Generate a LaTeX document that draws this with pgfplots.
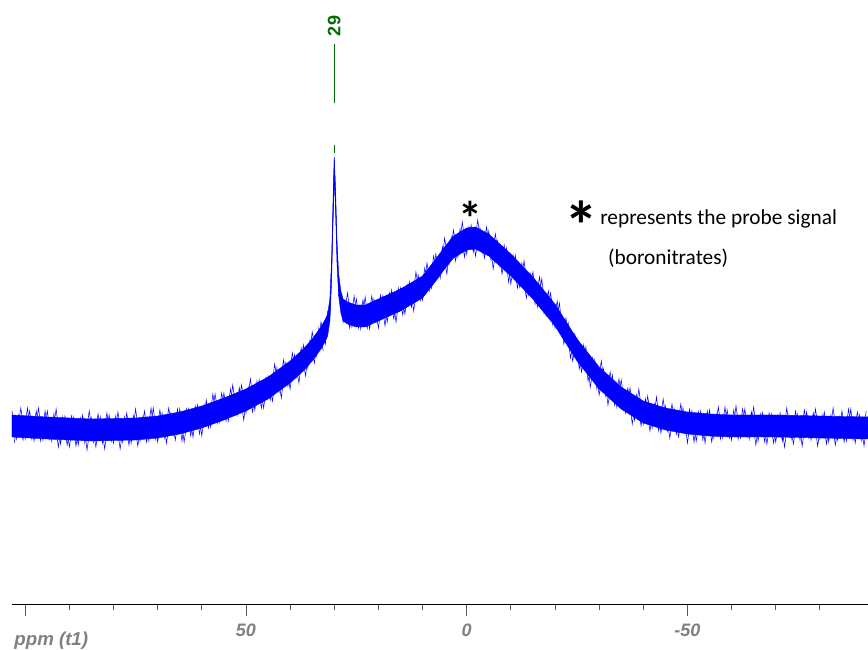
\documentclass[border=0pt]{standalone}
\usepackage{pgfplots}
\pgfplotsset{compat=1.18}
\usepackage{fontspec}
\setmainfont{Liberation Sans}
\newfontfamily\carlito{Carlito}
\definecolor{specblue}{RGB}{0,0,255}
\definecolor{peakgreen}{RGB}{0,110,0}
\definecolor{ticklab}{RGB}{128,128,128}
\begin{document}
\begin{tikzpicture}
\begin{axis}[
  scale only axis, width=642pt, height=453pt,
  x dir=reverse, xmin=-90.9, xmax=103, ymin=46, ymax=650,
  axis x line=bottom, axis y line=none,
  axis line style={-, black, line width=0.6pt},
  xtick={100,50,0,-50}, xticklabels={,50,0,-50},
  minor xtick={90,80,70,60,40,30,20,10,-10,-20,-30,-40,-60,-70,-80},
  tick align=outside,
  major tick length=9pt, minor tick length=4.5pt,
  every tick/.style={gray!70!black, line width=0.6pt},
  xticklabel style={font=\fontsize{13.5}{14}\selectfont\bfseries\itshape, text=ticklab, yshift=-2.25pt},
  clip=false,
]
% noise band (upper edge left to right, lower edge right to left)
\addplot[draw=specblue, fill=specblue, line width=0.3pt] coordinates {
(103,235) (95,233) (85,231) (75,232) (70,234) (65,238) (60,244) (55,252)
(50,261) (45,273) (40,289) (37,301) (35,311) (33,323) (32,331) (31.5,336)
(31,351) (30.6,391) (30.3,446) (30,493) (29.7,461) (29.4,411) (29,376)
(28.5,359) (28,351) (27,348) (25,345) (23,345) (20,351) (15,361) (10,374)
(7,391) (5,403) (3,414) (0,422) (-2,423) (-5,416) (-10,396) (-15,373)
(-20,346) (-25,311) (-30,283) (-35,263) (-40,249) (-45,242) (-50,238)
(-55,236) (-60,235) (-70,235) (-80,234) (-90.9,233)
(-90.9,211) (-80,212) (-70,213) (-60,213) (-55,214) (-50,216) (-45,220)
(-40,227) (-35,241) (-30,261) (-25,289) (-20,324) (-15,351) (-10,374)
(-5,394) (-2,401) (0,400) (3,392) (5,381) (7,369) (10,352) (15,339)
(20,329) (23,323) (25,323) (27,326) (28,329) (28.5,337) (29,354)
(29.4,389) (29.7,439) (30,471) (30.3,424) (30.6,369) (31,329) (31.5,314)
(32,309) (33,301) (35,289) (37,279) (40,267) (45,251) (50,239) (55,230)
(60,222) (65,216) (70,212) (75,210) (85,209) (95,211) (103,213)
} -- cycle;
% noise spikes, integer ppm
\addplot[specblue, line width=0.4pt] coordinates {
(103,239) (102,211) (101,242) (100,211) (99,239) (98,209) (97,242) (96,210)
(95,239) (94,209) (93,241) (92,206) (91,234) (90,203) (89,233) (88,205)
(87,235) (86,200) (85,232) (84,203) (83,233) (82,201) (81,235) (80,207)
(79,238) (78,208) (77,237) (76,207) (75,241) (74,209) (73,239) (72,209)
(71,242) (70,208) (69,237) (68,207) (67,237) (66,210) (65,241) (64,208)
(63,241) (62,213) (61,245) (60,214) (59,250) (58,223) (57,256) (56,228)
(55,257) (54,229) (53,265) (52,235) (51,265) (50,237) (49,271) (48,240)
(47,270) (46,242) (45,274) (44,249) (43,282) (42,252) (41,287) (40,261)
(39,295) (38,267) (37,305) (36,282) (35,318) (34,294) (33,328) (32,306)
(31.5,338) (31,330) (30.6,385) (30.3,430) (30,490) (29.7,445) (29.4,405)
(29,355) (28.5,352) (28,328)
(27,357) (26,323) (25,351) (24,321) (23,353) (22,321) (21,351) (20,322)
(19,354) (18,328) (17,360) (16,328) (15,362) (14,336) (13,368) (12,339)
(11,375) (10,350) (9,387) (8,362) (7,396) (6,372) (5,412) (4,386)
(3,420) (2,393) (1,428) (0,396) (-1,425) (-2,394) (-3,422) (-4,392)
(-5,419) (-6,381) (-7,409) (-8,376) (-9,402) (-10,366) (-11,395) (-12,363)
(-13,389) (-14,355) (-15,378) (-16,343) (-17,371) (-18,334) (-19,357) (-20,322)
(-21,347) (-22,306) (-23,327) (-24,289) (-25,312) (-26,278) (-27,303) (-28,263)
(-29,290) (-30,255) (-31,281) (-32,245) (-33,275) (-34,243) (-35,270) (-36,237)
(-37,262) (-38,230) (-39,261) (-40,226) (-41,254) (-42,222) (-43,253) (-44,217)
(-45,244) (-46,212) (-47,241) (-48,213) (-49,242) (-50,207) (-51,239) (-52,209)
(-53,239) (-54,207) (-55,240) (-56,212) (-57,243) (-58,212) (-59,240) (-60,210)
(-61,244) (-62,212) (-63,241) (-64,211) (-65,243) (-66,209) (-67,237) (-68,206)
(-69,236) (-70,208) (-71,237) (-72,203) (-73,235) (-74,206) (-75,236) (-76,204)
(-77,238) (-78,210) (-79,241) (-80,211) (-81,238) (-82,208) (-83,242) (-84,210)
(-85,239) (-86,209) (-87,241) (-88,207) (-89,235) (-90,204) (-90.9,234)
};
% noise spikes, half ppm, left of the peak
\addplot[specblue, line width=0.4pt] coordinates {
(102.5,207) (101.5,235) (100.5,210) (99.5,242) (98.5,211) (97.5,239) (96.5,209)
(95.5,239) (94.5,211) (93.5,236) (92.5,203) (91.5,233) (90.5,205) (89.5,234)
(88.5,204) (87.5,232) (86.5,207) (85.5,239) (84.5,208) (83.5,236) (82.5,207)
(81.5,237) (80.5,209) (79.5,234) (78.5,201) (77.5,233) (76.5,205) (75.5,234)
(74.5,204) (73.5,233) (72.5,208) (71.5,242) (70.5,211) (69.5,240) (68.5,212)
(67.5,242) (66.5,215) (65.5,241) (64.5,209) (63.5,241) (62.5,214) (61.5,244)
(60.5,216) (59.5,245) (58.5,222) (57.5,256) (56.5,227) (55.5,257) (54.5,229)
(53.5,261) (52.5,235) (51.5,262) (50.5,230) (49.5,263) (48.5,238) (47.5,269)
(46.5,242) (45.5,272) (44.5,250) (43.5,286) (42.5,258) (41.5,290) (40.5,264)
(39.5,297) (38.5,273) (37.5,302) (36.5,274) (35.5,310) (34.5,287) (33.5,322)
(32.5,299)
};
% noise spikes, half ppm, right of the peak
\addplot[specblue, line width=0.4pt] coordinates {
(27.5,350) (26.5,322) (25.5,354) (24.5,322) (23.5,350) (22.5,322) (21.5,354)
(20.5,328) (19.5,355) (18.5,324) (17.5,357) (16.5,331) (15.5,362) (14.5,335)
(13.5,365) (12.5,343) (11.5,378) (10.5,350) (9.5,382) (8.5,359) (7.5,394)
(6.5,372) (5.5,403) (4.5,376) (3.5,413) (2.5,389) (1.5,421) (0.5,393)
(-0.5,423) (-1.5,398) (-2.5,430) (-3.5,397) (-4.5,423) (-5.5,390) (-6.5,416)
(-7.5,384) (-8.5,405) (-9.5,368) (-10.5,395) (-11.5,362) (-12.5,387) (-13.5,352)
(-14.5,376) (-15.5,346) (-16.5,373) (-17.5,337) (-18.5,359) (-19.5,325) (-20.5,349)
(-21.5,314) (-22.5,332) (-23.5,292) (-24.5,316) (-25.5,281) (-26.5,305) (-27.5,269)
(-28.5,292) (-29.5,261) (-30.5,289) (-31.5,254) (-32.5,278) (-33.5,245) (-34.5,271)
(-35.5,240) (-36.5,262) (-37.5,226) (-38.5,255) (-39.5,224) (-40.5,251) (-41.5,219)
(-42.5,246) (-43.5,219) (-44.5,251) (-45.5,219) (-46.5,246) (-47.5,216) (-48.5,246)
(-49.5,217) (-50.5,241) (-51.5,208) (-52.5,238) (-53.5,210) (-54.5,239) (-55.5,208)
(-56.5,236) (-57.5,211) (-58.5,243) (-59.5,212) (-60.5,240) (-61.5,211) (-62.5,241)
(-63.5,213) (-64.5,238) (-65.5,205) (-66.5,236) (-67.5,208) (-68.5,237) (-69.5,207)
(-70.5,235) (-71.5,209) (-72.5,242) (-73.5,211) (-74.5,239) (-75.5,210) (-76.5,240)
(-77.5,212) (-78.5,237) (-79.5,204) (-80.5,235) (-81.5,206) (-82.5,235) (-83.5,205)
(-84.5,233) (-85.5,208) (-86.5,241) (-87.5,210) (-88.5,238) (-89.5,209) (-90.5,239)
};
% peak label
\addplot[peakgreen, line width=0.6pt] coordinates {(30,547) (30,606)};
\addplot[peakgreen, line width=0.6pt] coordinates {(30,497) (30,505)};
\node[rotate=90, text=peakgreen, font=\fontsize{13.5}{14}\selectfont\bfseries, inner sep=0pt] at (axis cs:30,624) {29};
% annotations
\node[font=\carlito\fontsize{36}{36}\selectfont\bfseries, inner sep=0pt] at (axis cs:-0.75,432) {*};
\node[font=\carlito\fontsize{51}{51}\selectfont\bfseries, inner sep=0pt] at (axis cs:-26.1,425) {*};
\node[font=\carlito\fontsize{16}{18}\selectfont, anchor=base west, inner sep=0pt] at (axis cs:-30.2,425) {represents the probe signal};
\node[font=\carlito\fontsize{16}{18}\selectfont, anchor=base west, inner sep=0pt] at (axis cs:-32.0,385) {(boronitrates)};
\node[font=\fontsize{14}{15}\selectfont\bfseries\itshape, text=ticklab, anchor=base west, inner sep=0pt] at (axis cs:102.5,5) {ppm (t1)};
\end{axis}
\pgfresetboundingbox
\path (current axis.south west) ++(-9pt,-34.5pt) rectangle (current axis.north east);
\end{tikzpicture}
\end{document}
